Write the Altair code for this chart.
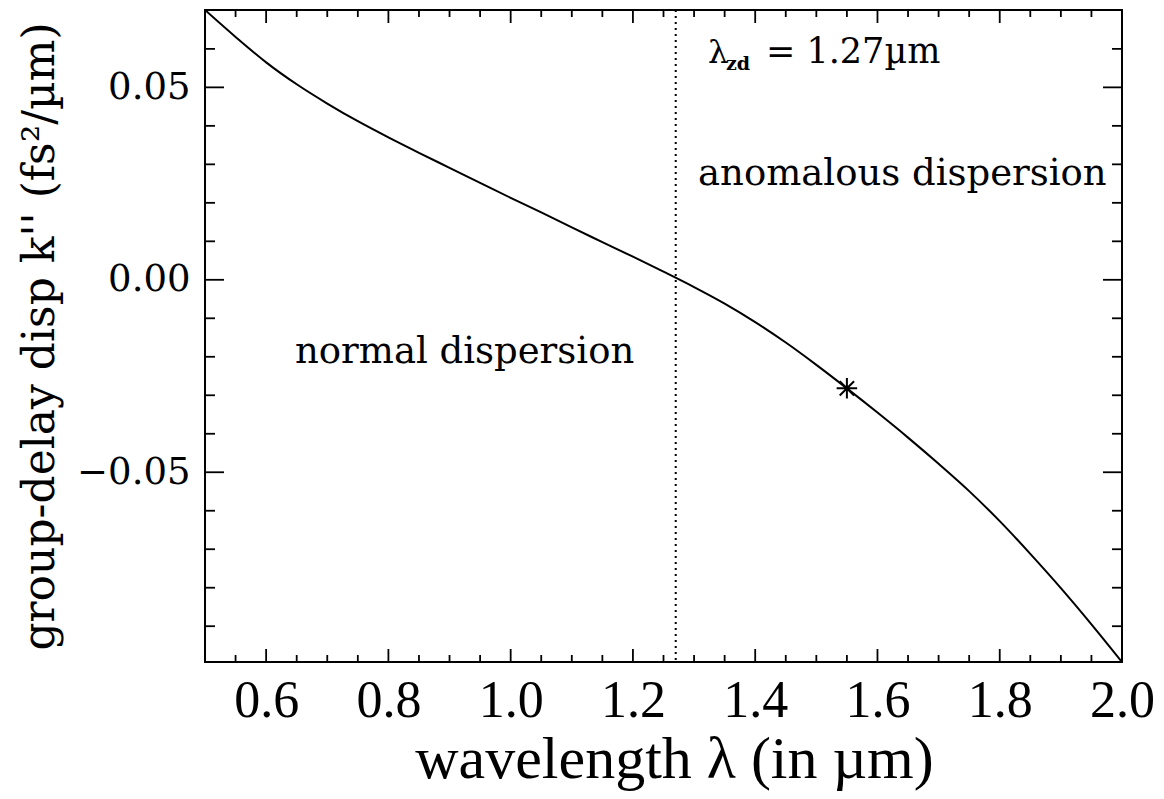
import altair as alt
import pandas as pd

# ---- data ----
wavelength = [0.50, 0.55, 0.60, 0.65, 0.70, 0.75, 0.80, 0.85, 0.90, 0.95,
              1.00, 1.05, 1.10, 1.15, 1.20, 1.25, 1.30, 1.35, 1.40, 1.45,
              1.50, 1.55, 1.60, 1.65, 1.70, 1.75, 1.80, 1.85, 1.90, 1.95,
              2.00]
k2 = [0.0701, 0.0631, 0.0565, 0.0508, 0.0458, 0.0412, 0.0370, 0.0330, 0.0291, 0.0252,
      0.0213, 0.0175, 0.0136, 0.0098, 0.0060, 0.0021, -0.0019, -0.0062, -0.0110, -0.0163,
      -0.0221, -0.0282, -0.0345, -0.0410, -0.0478, -0.0549, -0.0627, -0.0712, -0.0801, -0.0895,
      -0.0993]
zero_disp_wl = [1.27]
marker_wl = [1.55]
marker_k2 = [-0.0282]

x_major = [0.6, 0.8, 1.0, 1.2, 1.4, 1.6, 1.8, 2.0]
x_minor = [0.55, 0.65, 0.7, 0.75, 0.85, 0.9, 0.95, 1.05, 1.1, 1.15, 1.25, 1.3, 1.35,
           1.45, 1.5, 1.55, 1.65, 1.7, 1.75, 1.85, 1.9, 1.95]
y_major = [0.05, 0.0, -0.05]
y_minor = [0.06, 0.04, 0.03, 0.02, 0.01, -0.01, -0.02, -0.03, -0.04, -0.06,
           -0.07, -0.08, -0.09]

x_title = "wavelength λ (in µm)"
y_title = "group-delay disp k'' (fs²/µm)"
txt_normal = "normal dispersion"
txt_anom = "anomalous dispersion"
txt_lambda = "λ"
txt_sub = "zd"
txt_eq = "= 1.27µm"

# ---- layout ----
W, H = 917, 652
xs = alt.Scale(domain=[0.5, 2.0], nice=False, zero=False)
ys = alt.Scale(domain=[-0.0993, 0.0701], nice=False, zero=False)

xaxis = alt.Axis(
    values=x_major, format=".1f", ticks=False, domain=False, grid=False,
    labelFont="Liberation Serif", labelFontSize=52, labelPadding=13,
    labelColor="black", labelOverlap=False, labelFlush=False,
    title=x_title, titleFont="Liberation Serif", titleFontSize=60,
    titleFontWeight="normal", titleColor="black",
    titleX=469, titleY=115, titleAlign="center", titleBaseline="alphabetic")
yaxis = alt.Axis(
    values=y_major, format=".2f", ticks=False, domain=False, grid=False,
    labelFont="DejaVu Serif", labelFontSize=37, labelPadding=15,
    labelColor="black", labelOverlap=False, labelFlush=False,
    title=y_title, titleFont="DejaVu Serif", titleFontSize=44,
    titleFontWeight="normal", titleColor="black",
    titleX=-165, titleY=326, titleAngle=270, titleAlign="center",
    titleBaseline="middle")

def X(field):
    return alt.X(field, scale=xs, axis=xaxis)

def Y(field):
    return alt.Y(field, scale=ys, axis=yaxis)

curve_df = pd.DataFrame({"wl": wavelength, "k": k2})

curve = alt.Chart(curve_df).mark_line(
    color="black", strokeWidth=2, interpolate="monotone", clip=True
).encode(x=X("wl:Q"), y=Y("k:Q"))

zd_rule = alt.Chart(pd.DataFrame({"wl": zero_disp_wl})).mark_rule(
    color="black", strokeWidth=2, strokeDash=[2, 4]
).encode(x=X("wl:Q"))

star_path = "M-1,0L1,0M0,-1L0,1M-0.7,-0.7L0.7,0.7M-0.7,0.7L0.7,-0.7"
star = alt.Chart(pd.DataFrame({"wl": marker_wl, "k": marker_k2})).mark_point(
    shape=star_path, size=420, filled=False, color="black", strokeWidth=2, opacity=1
).encode(x=X("wl:Q"), y=Y("k:Q"))

def xticks(vals, length):
    d = pd.DataFrame({"v": vals})
    base = alt.Chart(d).mark_rule(color="black", strokeWidth=1.8)
    bottom = base.encode(x=X("v:Q"), y=alt.value(H), y2=alt.value(H - length))
    top = base.encode(x=X("v:Q"), y=alt.value(0), y2=alt.value(length))
    return [bottom, top]

def yticks(vals, length):
    d = pd.DataFrame({"v": vals})
    base = alt.Chart(d).mark_rule(color="black", strokeWidth=1.8)
    left = base.encode(y=Y("v:Q"), x=alt.value(0), x2=alt.value(length))
    right = base.encode(y=Y("v:Q"), x=alt.value(W), x2=alt.value(W - length))
    return [left, right]

tick_layers = (xticks(x_major, 13) + xticks(x_minor, 7)
               + yticks(y_major, 19) + yticks(y_minor, 10))

def label(text, x, y, size, weight="normal"):
    return alt.Chart(pd.DataFrame({"t": [text]})).mark_text(
        font="DejaVu Serif", fontSize=size, fontWeight=weight, color="black",
        align="left", baseline="alphabetic"
    ).encode(text="t:N", x=alt.value(x), y=alt.value(y))

texts = [
    label(txt_normal, 90, 353, 37),
    label(txt_anom, 493, 175, 37),
    label(txt_lambda, 503, 53, 32),
    label(txt_sub, 521, 60, 19, "bold"),
    label(txt_eq, 561, 53, 35),
]

chart = alt.layer(curve, zd_rule, star, *tick_layers, *texts).properties(
    width=W, height=H,
    padding={"left": 197, "top": 2, "right": 33, "bottom": 130},
    autosize=alt.AutoSizeParams(type="none"),
    background="white",
).configure_view(stroke="black", strokeWidth=2)

chart.save("out.html", embed_options={"renderer": "svg", "actions": False})
